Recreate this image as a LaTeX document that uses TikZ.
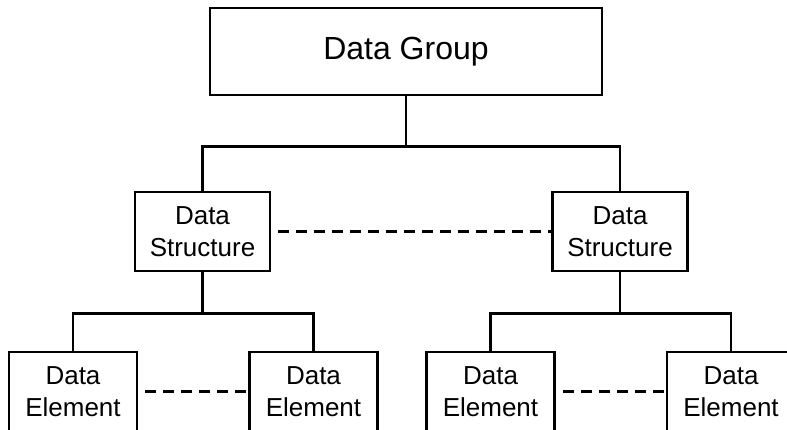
\documentclass[tikz,border=0pt]{standalone}
\usepackage{fontspec}
\setmainfont{Liberation Sans}
\usetikzlibrary{positioning}
\tikzset{
    %Define style for boxes
    groupbox/.style={
           rectangle,
           draw=black, line width=2.6pt,
           minimum width=392pt,
           minimum height=87pt,
           inner sep=0pt,
           font=\fontsize{32}{38}\selectfont,
           text centered},
    structbox/.style={
           rectangle,
           draw=black, line width=2.6pt,
           minimum width=135pt,
           minimum height=79pt,
           inner sep=0pt,
           font=\fontsize{26}{32}\selectfont,
           align=center},
    elembox/.style={
           structbox,
           minimum width=128pt},
    % Define line styles
    tree/.style={
           line width=2.6pt},
    peer/.style={
           line width=2.4pt,
           dash pattern=on 11pt off 7pt,
           dash phase=11pt}
}
\begin{document}
\begin{tikzpicture}[on grid,node distance=180pt and 204pt]
\path[use as bounding box,clip] (0pt,0pt) rectangle (787pt,-430pt);
 %nodes
\node[groupbox] (grp) at (406pt,-51.5pt) {Data Group};
\node[structbox, below left=180pt and 203.5pt of grp] (sL) {Data\\Structure};
\node[structbox, below right=180pt and 214pt of grp] (sR) {Data\\Structure};
\node[elembox, below left=160pt and 129.5pt of sL] (eLa) {Data\\Element};
\node[elembox, below right=160pt and 111pt of sL] (eLb) {Data\\Element};
\node[elembox, below left=160pt and 129.5pt of sR] (eRa) {Data\\Element};
\node[elembox, below right=160pt and 111pt of sR] (eRb) {Data\\Element};
 %links
\draw[tree] (grp.south) -- ++(0,-50pt) -| (sL.north);
\draw[tree] (grp.south) -- ++(0,-50pt) -| (sR.north);
\draw[tree] (sL.south) -- ++(0,-41pt) -| (eLa.north);
\draw[tree] (sL.south) -- ++(0,-41pt) -| (eLb.north);
\draw[tree] (sR.south) -- ++(0,-41pt) -| (eRa.north);
\draw[tree] (sR.south) -- ++(0,-41pt) -| (eRb.north);
\draw[peer] (sL.east) -- (sR.west);
\draw[peer] (eLa.east) -- (eLb.west);
\draw[peer] (eRa.east) -- (eRb.west);
\end{tikzpicture}
\end{document}
